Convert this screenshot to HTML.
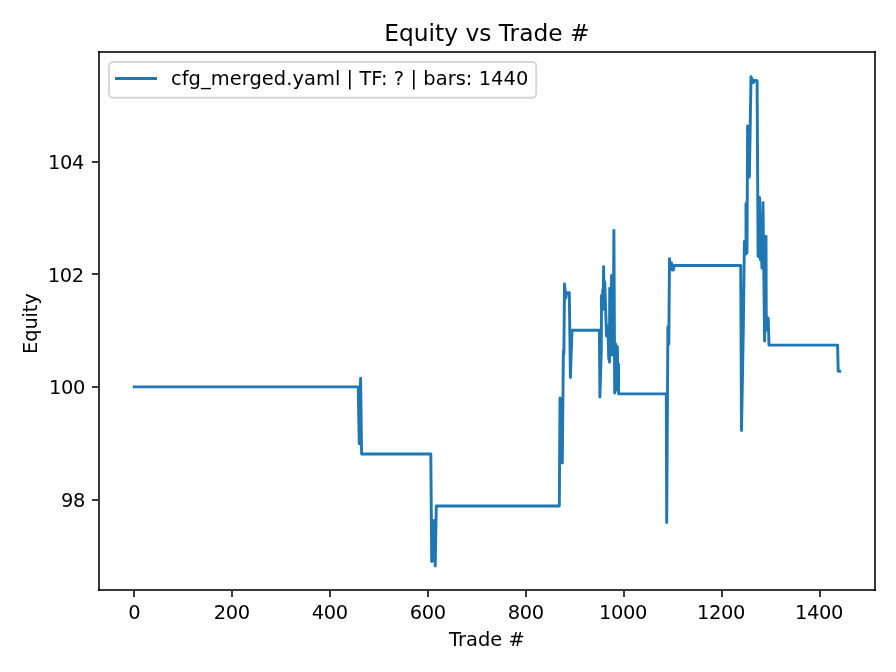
<!DOCTYPE html>
<html lang="en"><head><meta charset="utf-8"><title>Equity vs Trade #</title>
<style>html,body{margin:0;padding:0;background:#fff;overflow:hidden}svg{display:block}text{font-family:"DejaVu Sans", "Liberation Sans", sans-serif;fill:#000}</style></head><body>
<svg width="896" height="672" viewBox="0 0 896 672">
<rect width="896" height="672" fill="#fff"/>
<path d="M134.20 386.90 L358.20 386.90 L358.80 420.00 L359.30 443.70 L360.60 378.20 L361.60 453.95 L430.80 453.95 L431.70 561.50 L433.00 520.60 L433.60 561.00 L434.20 520.80 L435.20 566.00 L436.30 506.00 L559.30 506.00 L560.00 398.00 L562.30 463.00 L563.40 351.00 L563.90 354.00 L564.50 283.90 L565.80 298.00 L566.60 292.60 L569.30 292.60 L570.40 377.50 L572.00 330.30 L599.40 330.30 L599.90 397.00 L601.30 350.00 L601.50 295.50 L602.00 309.00 L602.80 289.50 L603.10 305.00 L603.60 266.70 L604.20 309.50 L604.80 282.00 L606.50 336.00 L607.90 326.00 L608.70 358.00 L609.50 362.00 L609.70 288.50 L610.40 350.00 L611.60 275.50 L611.90 355.00 L612.60 275.50 L613.20 340.00 L613.90 230.40 L614.70 393.00 L615.80 344.00 L616.40 390.00 L617.40 346.60 L617.90 385.00 L618.50 364.00 L618.60 393.90 L666.30 393.90 L666.70 522.50 L667.90 327.00 L668.80 344.00 L669.50 258.60 L670.80 269.50 L671.60 263.00 L672.40 270.00 L673.40 270.00 L674.30 265.50 L740.70 265.50 L741.50 430.50 L743.30 330.00 L744.40 241.50 L746.00 254.00 L746.00 203.50 L747.00 253.00 L747.60 126.00 L749.40 177.00 L751.00 76.70 L753.40 82.60 L754.50 80.50 L757.10 80.60 L758.10 256.60 L759.60 197.40 L760.40 260.00 L761.20 236.00 L761.90 268.00 L763.00 202.60 L764.60 341.00 L766.00 236.50 L766.30 330.00 L768.20 318.00 L769.00 345.10 L837.60 345.10 L838.20 371.20 L839.70 371.20" fill="none" stroke="#1f77b4" stroke-width="2.917" stroke-linejoin="round" stroke-linecap="square"/>
<g fill="#000" fill-opacity="0.78" shape-rendering="crispEdges">
<rect x="98" y="51" width="2" height="540"/>
<rect x="874" y="51" width="2" height="540"/>
<rect x="98" y="51" width="778" height="2"/>
<rect x="98" y="589" width="778" height="2"/>
<rect x="133" y="591" width="2" height="6"/>
<rect x="231" y="591" width="2" height="6"/>
<rect x="329" y="591" width="2" height="6"/>
<rect x="427" y="591" width="2" height="6"/>
<rect x="525" y="591" width="2" height="6"/>
<rect x="623" y="591" width="2" height="6"/>
<rect x="721" y="591" width="2" height="6"/>
<rect x="819" y="591" width="2" height="6"/>
<rect x="92" y="499" width="6" height="2"/>
<rect x="92" y="386" width="6" height="2"/>
<rect x="92" y="273" width="6" height="2"/>
<rect x="92" y="161" width="6" height="2"/>
</g>
<text x="134.15" y="618.5" font-size="19.4444" text-anchor="middle" letter-spacing="-0.37">0</text>
<text x="231.69" y="618.5" font-size="19.4444" text-anchor="middle" letter-spacing="-0.37">200</text>
<text x="329.73" y="618.5" font-size="19.4444" text-anchor="middle" letter-spacing="-0.37">400</text>
<text x="427.77" y="618.5" font-size="19.4444" text-anchor="middle" letter-spacing="-0.37">600</text>
<text x="525.81" y="618.5" font-size="19.4444" text-anchor="middle" letter-spacing="-0.37">800</text>
<text x="623.00" y="618.5" font-size="19.4444" text-anchor="middle" letter-spacing="-0.37">1000</text>
<text x="721.04" y="618.5" font-size="19.4444" text-anchor="middle" letter-spacing="-0.37">1200</text>
<text x="819.08" y="618.5" font-size="19.4444" text-anchor="middle" letter-spacing="-0.37">1400</text>
<text x="85.0" y="507.06" font-size="19.4444" text-anchor="end" letter-spacing="-0.37">98</text>
<text x="85.0" y="394.40" font-size="19.4444" text-anchor="end" letter-spacing="-0.37">100</text>
<text x="83.8" y="281.74" font-size="19.4444" text-anchor="end" letter-spacing="-0.37">102</text>
<text x="84.0" y="169.08" font-size="19.4444" text-anchor="end" letter-spacing="-0.37">104</text>
<text x="486.9" y="645.8" font-size="19.4444" text-anchor="middle">Trade #</text>
<text x="37.0" y="323.6" font-size="19.4444" text-anchor="middle" letter-spacing="-0.15" transform="rotate(-90 37.0 323.6)">Equity</text>
<text x="486.9" y="40.7" font-size="23.3333" text-anchor="middle">Equity vs Trade #</text>
<rect x="109.1" y="62.0" width="427.1" height="35.7" rx="3.9" ry="3.9" fill="#fff" fill-opacity="0.8" stroke="#ccc" stroke-opacity="0.8" stroke-width="1.944"/>
<rect x="115" y="77" width="42" height="3" fill="#1f77b4" shape-rendering="crispEdges"/>
<text x="171.0" y="84.9" textLength="357.3" lengthAdjust="spacing" font-size="19.4444">cfg_merged.yaml | TF: ? | bars: 1440</text>
</svg></body></html>
